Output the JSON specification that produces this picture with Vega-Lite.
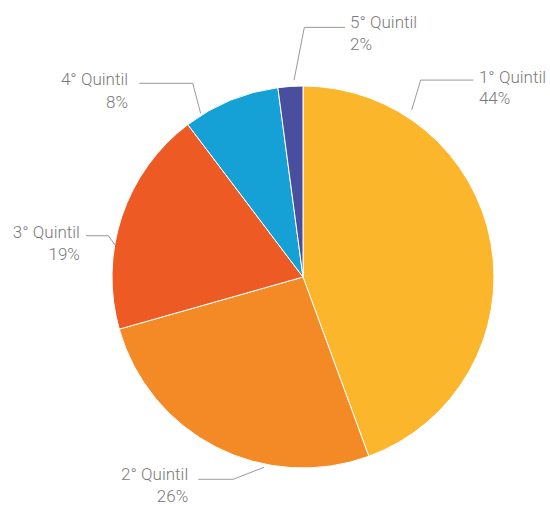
{
  "$schema": "https://vega.github.io/schema/vega-lite/v6.json",
  "width": 494,
  "height": 454,
  "autosize": {"type": "none"},
  "padding": {"left": 56, "top": 50, "right": 0, "bottom": 1},
  "background": "white",
  "config": {"view": {"stroke": null}},
  "datasets": {
    "slices": [
      {"quintil": "1° Quintil", "order": 1, "value": 44.4},
      {"quintil": "2° Quintil", "order": 2, "value": 26.2},
      {"quintil": "3° Quintil", "order": 3, "value": 19.1},
      {"quintil": "4° Quintil", "order": 4, "value": 8.2},
      {"quintil": "5° Quintil", "order": 5, "value": 2.1}
    ],
    "leaders": [
      {"quintil": "1° Quintil", "seq": 1, "x": 0.569, "y": 0.874},
      {"quintil": "1° Quintil", "seq": 2, "x": 0.616, "y": 1.031},
      {"quintil": "1° Quintil", "seq": 3, "x": 0.892, "y": 1.031},
      {"quintil": "2° Quintil", "seq": 1, "x": -0.204, "y": -0.996},
      {"quintil": "2° Quintil", "seq": 2, "x": -0.365, "y": -1.059},
      {"quintil": "2° Quintil", "seq": 3, "x": -0.548, "y": -1.059},
      {"quintil": "3° Quintil", "seq": 1, "x": -0.984, "y": 0.168},
      {"quintil": "3° Quintil", "seq": 2, "x": -1.019, "y": 0.216},
      {"quintil": "3° Quintil", "seq": 3, "x": -1.136, "y": 0.216},
      {"quintil": "4° Quintil", "seq": 1, "x": -0.536, "y": 0.857},
      {"quintil": "4° Quintil", "seq": 2, "x": -0.577, "y": 1.014},
      {"quintil": "4° Quintil", "seq": 3, "x": -0.857, "y": 1.014},
      {"quintil": "5° Quintil", "seq": 1, "x": -0.047, "y": 1.031},
      {"quintil": "5° Quintil", "seq": 2, "x": 0.007, "y": 1.307},
      {"quintil": "5° Quintil", "seq": 3, "x": 0.22, "y": 1.307}
    ],
    "labels": [
      {"quintil": "1° Quintil", "pct": "44%", "side": "right", "x": 0.921, "yName": 1.016, "yPct": 0.908},
      {"quintil": "2° Quintil", "pct": "26%", "side": "left", "x": -0.601, "yName": -1.063, "yPct": -1.178},
      {"quintil": "3° Quintil", "pct": "19%", "side": "left", "x": -1.168, "yName": 0.203, "yPct": 0.089},
      {"quintil": "4° Quintil", "pct": "8%", "side": "left", "x": -0.916, "yName": 1.005, "yPct": 0.887},
      {"quintil": "5° Quintil", "pct": "2%", "side": "right", "x": 0.246, "yName": 1.302, "yPct": 1.188}
    ]
  },
  "layer": [
    {
      "data": {"name": "slices"},
      "mark": {"type": "arc", "outerRadius": 191, "stroke": "white", "strokeWidth": 1},
      "encoding": {
        "theta": {"field": "value", "type": "quantitative", "stack": true},
        "order": {"field": "order", "type": "quantitative"},
        "color": {
          "field": "quintil",
          "type": "nominal",
          "legend": null,
          "scale": {
            "domain": ["1° Quintil", "2° Quintil", "3° Quintil", "4° Quintil", "5° Quintil"],
            "range": ["#FBB62B", "#F38A26", "#EE5A24", "#15A0D6", "#4A4E9E"]
          }
        }
      }
    },
    {
      "data": {"name": "leaders"},
      "mark": {"type": "line", "color": "#9a9a9a", "strokeWidth": 1},
      "encoding": {
        "x": {"field": "x", "type": "quantitative", "axis": null, "scale": {"domain": [-1.29319, 1.29319], "nice": false, "zero": false}},
        "y": {"field": "y", "type": "quantitative", "axis": null, "scale": {"domain": [-1.18848, 1.18848], "nice": false, "zero": false}},
        "detail": {"field": "quintil"},
        "order": {"field": "seq", "type": "quantitative"}
      }
    },
    {
      "data": {"name": "labels"},
      "transform": [{"filter": "datum.side == 'right'"}],
      "mark": {"type": "text", "align": "left", "baseline": "alphabetic", "font": "Roboto", "fontWeight": 300, "fontSize": 17, "color": "#7a7a7a"},
      "encoding": {
        "x": {"field": "x", "type": "quantitative"},
        "y": {"field": "yName", "type": "quantitative"},
        "text": {"field": "quintil"}
      }
    },
    {
      "data": {"name": "labels"},
      "transform": [{"filter": "datum.side == 'right'"}],
      "mark": {"type": "text", "align": "left", "baseline": "alphabetic", "font": "Roboto", "fontWeight": 300, "fontSize": 17, "color": "#7a7a7a"},
      "encoding": {
        "x": {"field": "x", "type": "quantitative"},
        "y": {"field": "yPct", "type": "quantitative"},
        "text": {"field": "pct"}
      }
    },
    {
      "data": {"name": "labels"},
      "transform": [{"filter": "datum.side == 'left'"}],
      "mark": {"type": "text", "align": "right", "baseline": "alphabetic", "font": "Roboto", "fontWeight": 300, "fontSize": 17, "color": "#7a7a7a"},
      "encoding": {
        "x": {"field": "x", "type": "quantitative"},
        "y": {"field": "yName", "type": "quantitative"},
        "text": {"field": "quintil"}
      }
    },
    {
      "data": {"name": "labels"},
      "transform": [{"filter": "datum.side == 'left'"}],
      "mark": {"type": "text", "align": "right", "baseline": "alphabetic", "font": "Roboto", "fontWeight": 300, "fontSize": 17, "color": "#7a7a7a"},
      "encoding": {
        "x": {"field": "x", "type": "quantitative"},
        "y": {"field": "yPct", "type": "quantitative"},
        "text": {"field": "pct"}
      }
    }
  ]
}
